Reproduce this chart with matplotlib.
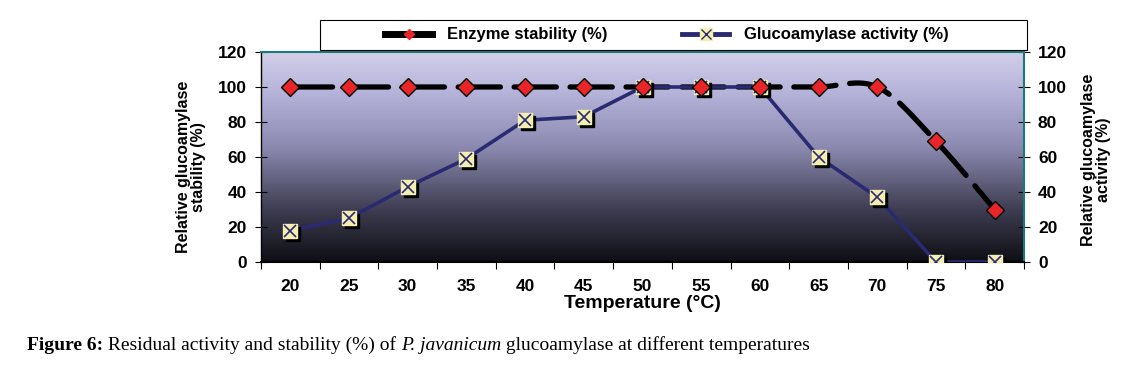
import numpy as np
import matplotlib
matplotlib.use("Agg")
import matplotlib.pyplot as plt
from matplotlib.colors import LinearSegmentedColormap
from matplotlib.lines import Line2D
from matplotlib.patches import Rectangle
from matplotlib.legend_handler import HandlerTuple
from matplotlib.transforms import offset_copy

# data
temps = [20, 25, 30, 35, 40, 45, 50, 55, 60, 65, 70, 75, 80]
stability = [100, 100, 100, 100, 100, 100, 100, 100, 100, 100, 100, 69, 30]
activity = [18, 25, 43, 59, 81, 83, 100, 100, 100, 60, 37, 0, 0]
yticks = [0, 20, 40, 60, 80, 100, 120]

plt.rcParams['font.family'] = ['Liberation Sans', 'DejaVu Sans']


def smooth(xs, ys, n=30):
    # Excel-like smoothed line (Bezier through each point)
    xs = np.asarray(xs, float)
    ys = np.asarray(ys, float)
    px, py = [], []
    m = len(xs)
    for i in range(m - 1):
        a = max(i - 1, 0)
        b = min(i + 2, m - 1)
        c1x = xs[i] + (xs[i + 1] - xs[a]) / 6
        c1y = ys[i] + (ys[i + 1] - ys[a]) / 6
        c2x = xs[i + 1] - (xs[b] - xs[i]) / 6
        c2y = ys[i + 1] - (ys[b] - ys[i]) / 6
        t = np.linspace(0, 1, n)
        px.append((1 - t) ** 3 * xs[i] + 3 * (1 - t) ** 2 * t * c1x + 3 * (1 - t) * t ** 2 * c2x + t ** 3 * xs[i + 1])
        py.append((1 - t) ** 3 * ys[i] + 3 * (1 - t) ** 2 * t * c1y + 3 * (1 - t) * t ** 2 * c2y + t ** 3 * ys[i + 1])
    return np.concatenate(px), np.concatenate(py)


fig = plt.figure(figsize=(11.36, 3.71), dpi=100)
ax = fig.add_axes([261 / 1136, 1 - 262 / 371, 763 / 1136, 210 / 371])
xpos = np.arange(len(temps))

# background gradient
cmap = LinearSegmentedColormap.from_list(
    "bg", [(0, "#0e0e14"), (0.25, "#3e3d52"), (0.55, "#8c8ab0"), (0.8, "#b4b2d8"), (1, "#d2cfea")])
grad = np.linspace(0, 1, 256).reshape(-1, 1)
ax.imshow(grad, cmap=cmap, origin="lower", aspect="auto",
          extent=[-0.5, len(temps) - 0.5, 0, 120], zorder=0)

# stability (smoothed, dashed black)
sx, sy = smooth(xpos, stability)
ln, = ax.plot(sx, sy, color="black", lw=3.8, solid_capstyle="round",
              dash_capstyle="round", zorder=2)
ln.set_dashes((8, 2.6))

# activity
ax.plot(xpos, activity, color="#2a2a72", lw=2.6, zorder=3)
shadow = offset_copy(ax.transData, fig=fig, x=3, y=-3, units="dots")
ax.plot(xpos, activity, ls="none", marker="s", ms=10, color="black", transform=shadow, zorder=4)
ax.plot(xpos, activity, ls="none", marker="s", ms=10, mfc="#f4eeb0", mec="#f4eeb0", zorder=5)
ax.plot(xpos, activity, ls="none", marker="x", ms=9, mew=1.2, color="#2a2a72", zorder=6)

ax.plot(xpos, stability, ls="none", marker="D", ms=9.5, mfc="#e8262a", mec="black", mew=1, zorder=7)

ax.set_xlim(-0.5, len(temps) - 0.5)
ax.set_ylim(0, 120)
ax.set_xticks(np.arange(-0.5, len(temps), 1))
ax.set_xticklabels([])
ax.set_xticks(xpos, minor=True)
ax.set_xticklabels([str(t) for t in temps], minor=True, fontsize=12.5, fontweight="bold")
ax.tick_params(axis="x", which="major", direction="out", length=5, color="black")
ax.tick_params(axis="x", which="minor", length=0, pad=12)
ax.set_yticks(yticks)
ax.set_yticklabels([str(v) for v in yticks], fontsize=12.5, fontweight="bold")
ax.tick_params(axis="y", direction="inout", length=8, left=True, right=True,
               labelleft=True, labelright=True, pad=6)

for s in ax.spines.values():
    s.set_color("#1a7a78")
    s.set_linewidth(1.5)
ax.spines["bottom"].set_color("black")
ax.spines["left"].set_color("black")
ax.spines["left"].set_linewidth(1)

ax.set_xlabel("Temperature (°C)", fontsize=14, fontweight="bold", labelpad=1)
fig.text(191 / 1136, 1 - 167 / 371, "Relative glucoamylase\nstability (%)", rotation=90,
         ha="center", va="center", fontsize=11.5, fontweight="bold", multialignment="center",
         linespacing=1.0)
fig.text(1096 / 1136, 1 - 160 / 371, "Relative glucoamylase\nactivity (%)", rotation=90,
         ha="center", va="center", fontsize=11.5, fontweight="bold", multialignment="center",
         linespacing=1.0)

# legend box
fig.add_artist(Rectangle((320 / 1136, 1 - 50 / 371), 707 / 1136, 30 / 371,
                         transform=fig.transFigure, facecolor="white", edgecolor="black",
                         lw=0.8, zorder=1))
h1 = Line2D([], [], color="black", lw=5, marker="D", ms=5, mfc="#e8262a", mec="#e8262a")
h2a = Line2D([], [], color="#2a2a72", lw=3.5, marker="s", ms=9, mfc="#f4eeb0", mec="#f4eeb0")
h2b = Line2D([], [], ls="none", marker="x", ms=7, color="#2a2a72")
leg = fig.legend([h1, (h2a, h2b)], ["Enzyme stability (%)", "Glucoamylase activity (%)"],
                 handler_map={tuple: HandlerTuple(ndivide=1)},
                 ncol=2, loc="center", bbox_to_anchor=(667 / 1136, 1 - 35 / 371),
                 frameon=False, prop={"weight": "bold", "size": 12}, handlelength=2.8,
                 handletextpad=0.9, columnspacing=4.5)
leg.set_zorder(2)

# caption
t1 = fig.text(27 / 1136, 1 - 350 / 371, "Figure 6:", fontsize=14, family="Liberation Serif",
              fontweight="bold", va="baseline")
t2 = fig.text(0, 0, " Residual activity and stability (%) of ", fontsize=14,
              family="Liberation Serif", va="baseline")
t3 = fig.text(0, 0, "P. javanicum", fontsize=14, family="Liberation Serif", style="italic",
              va="baseline")
t4 = fig.text(0, 0, " glucoamylase at different temperatures", fontsize=14,
              family="Liberation Serif", va="baseline")
r = fig.canvas.get_renderer()
prev = t1
for t in (t2, t3, t4):
    bb = prev.get_window_extent(r)
    t.set_x(bb.x1 / fig.bbox.width)
    t.set_y(prev.get_position()[1])
    prev = t

fig.savefig("out.png", dpi=100)
